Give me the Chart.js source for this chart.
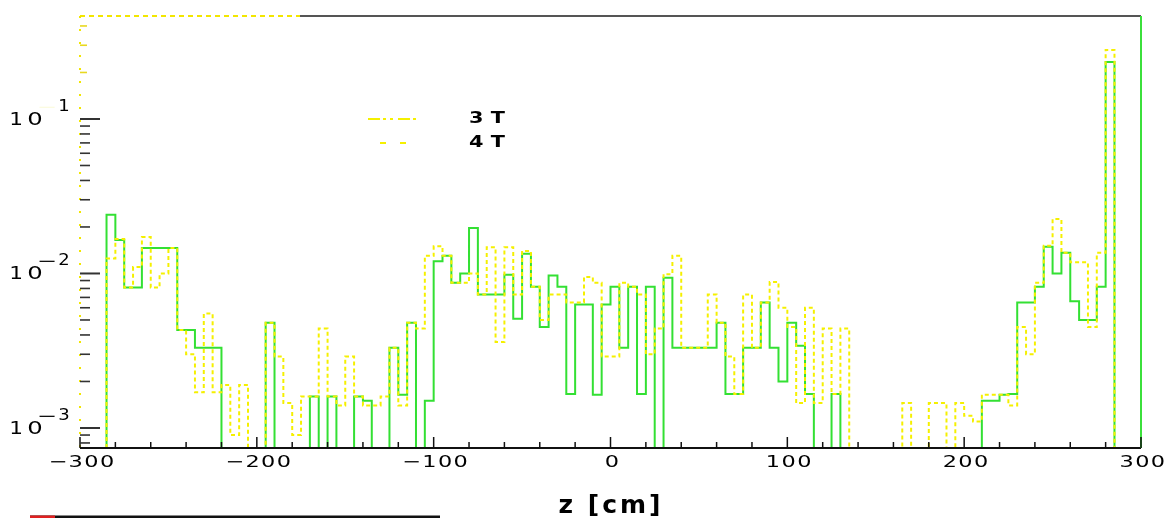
<!DOCTYPE html>
<html><head><meta charset="utf-8">
<script src="https://cdn.jsdelivr.net/npm/chart.js@4.4.1/dist/chart.umd.min.js"></script>
<style>html,body{margin:0;padding:0;background:#fff;overflow:hidden}canvas{display:block}</style>
</head><body>
<canvas id="c" width="1169" height="518"></canvas>
<script>
// bin edges (z in cm), 5 cm bins
const binEdges = [-300,-295,-290,-285,-280,-275,-270,-265,-260,-255,-250,-245,-240,-235,-230,-225,-220,-215,-210,-205,
 -200,-195,-190,-185,-180,-175,-170,-165,-160,-155,-150,-145,-140,-135,-130,-125,-120,-115,-110,-105,
 -100,-95,-90,-85,-80,-75,-70,-65,-60,-55,-50,-45,-40,-35,-30,-25,-20,-15,-10,-5,
 0,5,10,15,20,25,30,35,40,45,50,55,60,65,70,75,80,85,90,95,
 100,105,110,115,120,125,130,135,140,145,150,155,160,165,170,175,180,185,190,195,
 200,205,210,215,220,225,230,235,240,245,250,255,260,265,270,275,280,285,290,295,300];

// 3 T (solid line, drawn green in the scan)
const values3T = [0,0,0,0.024,0.0165,0.0081,0.0081,0.0146,0.0146,0.0146,
 0.0146,0.0043,0.0043,0.0033,0.0033,0.0033,0,0,0,0,
 0,0.0048,0,0,0,0,0.0016,0,0.0016,0,
 0,0.0016,0.0015,0,0,0.0033,0.00164,0.0048,0,0.0015,
 0.012,0.013,0.0087,0.010,0.0197,0.0073,0.0073,0.0073,0.0098,0.0051,
 0.0134,0.0082,0.0045,0.0097,0.0082,0.00166,0.0063,0.0063,0.00164,0.0063,
 0.0082,0.0033,0.0082,0.00166,0.0082,0,0.0094,0.0033,0.0033,0.0033,
 0.0033,0.0033,0.0048,0.00166,0.00166,0.0033,0.0033,0.0065,0.0033,0.002,
 0.0048,0.0034,0.00166,0,0,0.00166,0,0,0,0,
 0,0,0,0,0,0,0,0,0,0,
 0,0,0.0015,0.0015,0.00164,0.00166,0.0065,0.0065,0.0082,0.0149,
 0.010,0.0136,0.0066,0.005,0.005,0.0082,0.234,0,0,0];

// 4 T (dotted line, yellow)
const values4T = [0,0,0,0.0125,0.0167,0.0081,0.011,0.0172,0.0081,0.010,
 0.0146,0.0043,0.003,0.0017,0.0055,0.0017,0.0019,0.0009,0.0019,0,
 0,0.0048,0.0029,0.00145,0.0009,0.0016,0.0016,0.0044,0.0016,0.0014,
 0.0029,0.0016,0.0014,0.0014,0.0016,0.0033,0.0014,0.0048,0.0044,0.013,
 0.015,0.013,0.0087,0.0087,0.010,0.0073,0.0148,0.0036,0.0148,0.0073,
 0.014,0.0082,0.005,0.0073,0.0073,0.0065,0.0065,0.0095,0.0087,0.0029,
 0.0029,0.0087,0.0082,0.0073,0.003,0.0044,0.0099,0.013,0.0033,0.0033,
 0.0033,0.0073,0.0048,0.0029,0.00166,0.0073,0.0033,0.0065,0.0088,0.006,
 0.0045,0.00145,0.006,0.00145,0.0044,0.00166,0.0044,0,0,0,
 0,0,0,0.00145,0,0,0.00145,0.00145,0,0.00145,
 0.0012,0.0011,0.00164,0.00164,0.00164,0.0014,0.0045,0.003,0.0087,0.0151,
 0.0225,0.0136,0.0118,0.0118,0.0045,0.0136,0.28,0,0,0];

const seriesLabels = ['3 T', '4 T'];
const xTickValues = [-300,-200,-100,0,100,200,300];
const xTickLabels = ['\u2212300','\u2212200','\u2212100','0','100','200','300'];
const xMinorTickValues = [-280,-260,-240,-220,-180,-160,-140,-120,-80,-60,-40,-20,20,40,60,80,120,140,160,180,220,240,260,280];
const yTickValues = [0.1, 0.01, 0.001];
const yTickExponents = ['1','2','3'];
const yMinorTickValues = [0.0008,0.0009,0.002,0.003,0.004,0.005,0.006,0.007,0.008,0.009,
  0.02,0.03,0.04,0.05,0.06,0.07,0.08,0.09];
const yFaintTickValues = [0.2,0.3,0.4];
const xAxisTitle = 'z [cm]';
const Y_MIN = 0.000742, Y_MAX = 0.464;
const EMPTY_BIN = 0.0001; // empty bins are drawn below the axis floor

function toSteps(vals){
  return binEdges.map((e,i)=>{
    const v = vals[Math.min(i, vals.length-1)];
    return {x:e, y: v > 0 ? v : EMPTY_BIN};
  });
}

function wideText(ctx, text, cx, cy, sx){
  ctx.save();
  ctx.translate(cx, cy);
  ctx.scale(sx, 1);
  ctx.fillText(text, 0, 0);
  ctx.restore();
}

const deco = {
  id:'deco',
  afterDatasetsDraw(chart){
    const ctx = chart.ctx, xs = chart.scales.x, ys = chart.scales.y, a = chart.chartArea;
    ctx.save();
    // frame
    ctx.lineWidth = 2;
    ctx.strokeStyle = '#111';
    ctx.beginPath(); ctx.moveTo(a.left, a.bottom); ctx.lineTo(a.right, a.bottom); ctx.stroke();
    ctx.strokeStyle = '#555';
    ctx.beginPath(); ctx.moveTo(300, a.top); ctx.lineTo(a.right, a.top); ctx.stroke();
    ctx.strokeStyle = '#f2e600';
    ctx.setLineDash([5,4]);
    ctx.beginPath(); ctx.moveTo(a.left, a.top); ctx.lineTo(300, a.top); ctx.stroke();
    ctx.setLineDash([2,11]);
    ctx.beginPath(); ctx.moveTo(a.left, a.top); ctx.lineTo(a.left, a.bottom); ctx.stroke();
    ctx.setLineDash([]);
    ctx.strokeStyle = '#3be03b';
    ctx.beginPath(); ctx.moveTo(a.right, a.top); ctx.lineTo(a.right, a.bottom); ctx.stroke();
    // x ticks (inward)
    ctx.strokeStyle = '#111'; ctx.lineWidth = 1.5;
    xTickValues.forEach(v=>{const p = xs.getPixelForValue(v); ctx.beginPath(); ctx.moveTo(p,a.bottom); ctx.lineTo(p,a.bottom-11); ctx.stroke();});
    xMinorTickValues.forEach(v=>{const p = xs.getPixelForValue(v); ctx.beginPath(); ctx.moveTo(p,a.bottom); ctx.lineTo(p,a.bottom-6); ctx.stroke();});
    // y ticks (inward)
    ctx.strokeStyle = '#333'; ctx.lineWidth = 2;
    yTickValues.forEach(v=>{const p = ys.getPixelForValue(v); ctx.beginPath(); ctx.moveTo(a.left,p); ctx.lineTo(a.left+20,p); ctx.stroke();});
    ctx.lineWidth = 1.6;
    yMinorTickValues.forEach(v=>{const p = ys.getPixelForValue(v); ctx.beginPath(); ctx.moveTo(a.left,p); ctx.lineTo(a.left+10,p); ctx.stroke();});
    ctx.strokeStyle = '#e8d820';
    yFaintTickValues.forEach(v=>{const p = ys.getPixelForValue(v); ctx.beginPath(); ctx.moveTo(a.left,p); ctx.lineTo(a.left+7,p); ctx.stroke();});
    // x labels
    ctx.fillStyle = '#000';
    ctx.font = '16px "DejaVu Sans"';
    ctx.textAlign = 'center'; ctx.textBaseline = 'middle';
    ctx.letterSpacing = '1px';
    xTickValues.forEach((v,i)=>{wideText(ctx, xTickLabels[i], xs.getPixelForValue(v)+2, 463, 1.4);});
    // y labels 10^n
    ctx.letterSpacing = '0px';
    yTickValues.forEach((v,i)=>{
      const p = ys.getPixelForValue(v);
      ctx.font = '18px "DejaVu Sans"';
      ctx.textAlign = 'center';
      ctx.fillStyle = '#000';
      wideText(ctx, '1', 16, p+1, 1.2);
      wideText(ctx, '0', 35, p+1, 1.35);
      ctx.font = '15px "DejaVu Sans"';
      ctx.fillStyle = i===0 ? '#fbfbe0' : '#000';
      wideText(ctx, '\u2212', 47, p-11, 1.6);
      ctx.fillStyle = '#000';
      wideText(ctx, yTickExponents[i], 64, p-12, 1.2);
    });
    // axis title
    ctx.font = 'bold 25px "DejaVu Sans"';
    ctx.letterSpacing = '3px';
    ctx.textAlign = 'center'; ctx.textBaseline = 'alphabetic';
    ctx.fillText(xAxisTitle, 611, 513);
    // legend
    ctx.letterSpacing = '0px';
    ctx.font = 'bold 16px "DejaVu Sans"';
    ctx.textAlign = 'left'; ctx.textBaseline = 'middle';
    wideText(ctx, seriesLabels[0], 469, 119, 1.3);
    wideText(ctx, seriesLabels[1], 469, 143, 1.3);
    ctx.lineWidth = 2; ctx.strokeStyle = '#f5f000';
    ctx.setLineDash([12,3,3,4,3,5]);
    ctx.beginPath(); ctx.moveTo(368,119); ctx.lineTo(418,119); ctx.stroke();
    ctx.setLineDash([6,14]);
    ctx.beginPath(); ctx.moveTo(380,143); ctx.lineTo(406,143); ctx.stroke();
    ctx.setLineDash([]);
    // bottom-left dark strip
    ctx.strokeStyle = '#111'; ctx.lineWidth = 3;
    ctx.beginPath(); ctx.moveTo(30,517); ctx.lineTo(440,517); ctx.stroke();
    ctx.strokeStyle = '#e02020';
    ctx.beginPath(); ctx.moveTo(30,517); ctx.lineTo(55,517); ctx.stroke();
    ctx.restore();
  }
};

new Chart(document.getElementById('c'), {
  type:'line',
  data:{
    datasets:[
      {label:seriesLabels[1], data: toSteps(values4T), stepped:'before', borderColor:'#f5f000', borderWidth:2,
       borderDash:[4,3], pointRadius:0, fill:false, order:0},
      {label:seriesLabels[0], data: toSteps(values3T), stepped:'before', borderColor:'#33e033', borderWidth:2,
       pointRadius:0, fill:false, order:1}
    ]
  },
  options:{
    responsive:false, animation:false,
    layout:{padding:{left:80, right:28, top:16, bottom:70}},
    plugins:{legend:{display:false}, tooltip:{enabled:false}},
    scales:{
      x:{type:'linear', min:-300, max:300, display:false},
      y:{type:'logarithmic', min:Y_MIN, max:Y_MAX, display:false}
    }
  },
  plugins:[deco]
});
</script>
</body></html>
